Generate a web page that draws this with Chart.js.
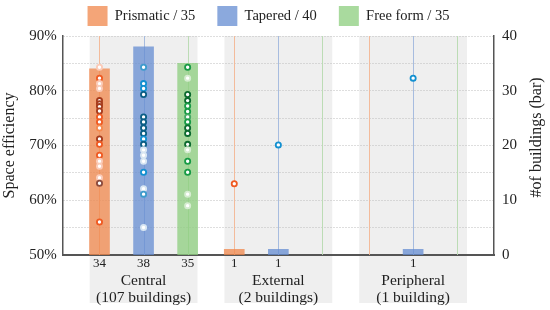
<!DOCTYPE html>
<html>
<head>
<meta charset="utf-8">
<script src="https://cdn.jsdelivr.net/npm/chart.js@4.4.1/dist/chart.umd.min.js"></script>
<style>
  html, body { margin: 0; padding: 0; background: #fff; }
  #wrap { width: 550px; height: 310px; }
</style>
</head>
<body>
<div id="wrap"><canvas id="chart"></canvas></div>
<script>
// categories
const groups = ['Central', 'External', 'Peripheral'];
const groupBuildings = ['(107 buildings)', '(2 buildings)', '(1 building)'];
const shapes = ['Prismatic', 'Tapered', 'Free form'];

// number of buildings per group (bars, right axis)
const prismaticCount = [34, 1, 0];
const taperedCount = [38, 1, 1];
const freeFormCount = [35, 0, 0];

// space efficiency of single buildings (%), per group
const prismaticCentral = [84.3, 82.3, 81.3, 80.4, 78.2, 77.6, 77.1, 76.3, 75.2, 74.3, 73.2, 71.2, 70.2, 68.2, 67.1, 66.2, 64.1, 63.1, 56.0];
const prismaticExternal = [63.0];
const prismaticPeripheral = [];
const taperedCentral = [84.3, 81.3, 80.4, 79.3, 75.2, 74.3, 73.2, 72.2, 71.2, 70.2, 69.2, 68.2, 67.1, 65.1, 62.1, 61.1, 55.0];
const taperedExternal = [70.1];
const taperedPeripheral = [82.3];
const freeFormCentral = [84.3, 82.3, 79.3, 78.2, 77.2, 76.2, 75.2, 74.3, 73.2, 72.2, 70.2, 69.2, 67.1, 65.1, 61.1, 59.0];
const freeFormExternal = [];
const freeFormPeripheral = [];

// shade class of each point (0 light .. 3 dark, 4 muted)
const prismaticCentralTone = [0, 2, 0, 0, 3, 3, 3, 3, 2, 2, 1, 3, 2, 2, 0, 0, 0, 4, 2];
const prismaticExternalTone = [2];
const taperedCentralTone = [1, 2, 2, 3, 3, 3, 3, 3, 2, 3, 0, 0, 0, 2, 0, 1, 0];
const taperedExternalTone = [2];
const taperedPeripheralTone = [2];
const freeFormCentralTone = [2, 0, 3, 3, 2, 2, 1, 2, 3, 3, 3, 0, 2, 2, 0, 0];

const subOffset = [-0.327, 0, 0.327];
const bandHalf = 0.4;

const barColors = ['rgba(240,135,75,0.75)', 'rgba(100,140,210,0.75)', 'rgba(140,205,125,0.75)'];
const guideColors = ['#f3bb9b', '#a7bcdf', '#bcdcb5'];
const toneColors = [
    ['#fbcbb8', '#f58a4f', '#ef5a22', '#a63b1c', '#8b4b3d'],
    ['#d8e6f2', '#3d9bcc', '#1390d0', '#0b5e85', '#0b5e85'],
    ['#d5ecd0', '#43a862', '#189a45', '#0c6a2f', '#0c6a2f']
];

const counts = [prismaticCount, taperedCount, freeFormCount];
const values = [
    [prismaticCentral, prismaticExternal, prismaticPeripheral],
    [taperedCentral, taperedExternal, taperedPeripheral],
    [freeFormCentral, freeFormExternal, freeFormPeripheral]
];
const tones = [
    [prismaticCentralTone, prismaticExternalTone, []],
    [taperedCentralTone, taperedExternalTone, taperedPeripheralTone],
    [freeFormCentralTone, [], []]
];

Chart.defaults.font.family = '"Liberation Serif", "Times New Roman", serif';
Chart.defaults.color = '#222';

const datasets = [];
shapes.forEach((name, s) => {
    const total = counts[s].reduce((a, b) => a + b, 0);
    const data = [];
    counts[s].forEach((c, g) => { if (c > 0) data.push({x: g + subOffset[s], y: c}); });
    datasets.push({
        type: 'bar',
        label: name + ' / ' + total,
        data: data,
        yAxisID: 'yc',
        backgroundColor: barColors[s],
        borderWidth: 0,
        barThickness: 20,
        grouped: false,
        order: 2
    });
});
shapes.forEach((name, s) => {
    const pts = [], cols = [];
    values[s].forEach((arr, g) => {
        arr.forEach((v, k) => {
            pts.push({x: g + subOffset[s], y: v});
            cols.push(toneColors[s][tones[s][g][k]]);
        });
    });
    datasets.push({
        type: 'scatter',
        label: name + ' buildings',
        data: pts,
        yAxisID: 'y',
        pointRadius: 2.6,
        pointBorderWidth: 1.8,
        pointBackgroundColor: '#fff',
        pointBorderColor: cols,
        order: 1
    });
});

// x tick positions (only where a bar exists)
const tickPos = [], tickText = [];
groups.forEach((g, gi) => {
    shapes.forEach((name, s) => {
        if (counts[s][gi] > 0) {
            tickPos.push(gi + subOffset[s]);
            tickText.push(String(counts[s][gi]));
        }
    });
});

const groupPlugin = {
    id: 'groupBands',
    afterLayout(chart) {
        // legend sits a bit left of the canvas centre in the original
        chart.legend.left += 6;
        chart.legend.right += 6;
    },
    beforeDraw(chart) {
        const {ctx, chartArea, scales} = chart;
        ctx.save();
        ctx.fillStyle = '#efefef';
        groups.forEach((g, i) => {
            const l = scales.x.getPixelForValue(i - bandHalf);
            const r = scales.x.getPixelForValue(i + bandHalf);
            ctx.fillRect(l, chartArea.top, r - l, scales.x2.bottom - 3 - chartArea.top);
        });
        ctx.restore();
    },
    beforeDatasetsDraw(chart) {
        const {ctx, chartArea, scales} = chart;
        ctx.save();
        ctx.lineWidth = 1;
        groups.forEach((g, i) => {
            shapes.forEach((name, s) => {
                const px = Math.round(scales.x.getPixelForValue(i + subOffset[s])) + 0.5;
                ctx.strokeStyle = guideColors[s];
                ctx.beginPath();
                ctx.moveTo(px, chartArea.top);
                ctx.lineTo(px, chartArea.bottom);
                ctx.stroke();
            });
        });
        ctx.restore();
    },
    afterDraw(chart) {
        const {ctx, chartArea} = chart;
        ctx.save();
        ctx.translate(chart.width - 13, (chartArea.top + chartArea.bottom) / 2 - 8);
        ctx.rotate(-Math.PI / 2);
        ctx.textAlign = 'center';
        ctx.textBaseline = 'middle';
        ctx.fillStyle = '#222';
        ctx.font = '16px "Liberation Serif", serif';
        ctx.fillText('#of buildings (bar)', 0, 0);
        ctx.restore();
    }
};

new Chart(document.getElementById('chart'), {
    type: 'bar',
    data: { datasets: datasets },
    options: {
        responsive: true,
        maintainAspectRatio: false,
        animation: false,
        layout: { padding: { top: -16, right: 25, bottom: 4, left: 0 } },
        plugins: {
            tooltip: { enabled: false },
            legend: {
                position: 'top',
                labels: {
                    boxWidth: 20,
                    boxHeight: 20,
                    padding: 22,
                    font: { size: 14.5 },
                    filter: item => item.datasetIndex < 3
                }
            }
        },
        scales: {
            x: {
                type: 'linear',
                min: -0.6,
                max: 2.6,
                offset: false,
                weight: 0,
                grid: { display: false, drawTicks: false },
                border: { display: true, color: '#555', width: 2 },
                afterBuildTicks: scale => { scale.ticks = tickPos.map(v => ({value: v})); },
                ticks: {
                    autoSkip: false,
                    maxRotation: 0,
                    padding: 2,
                    font: { size: 13, lineHeight: 1.0 },
                    callback: (v, i) => tickText[i]
                }
            },
            x2: {
                type: 'linear',
                position: 'bottom',
                min: -0.6,
                max: 2.6,
                offset: false,
                weight: 1,
                grid: { display: false, drawTicks: false },
                border: { display: false },
                afterBuildTicks: scale => { scale.ticks = groups.map((g, i) => ({value: i})); },
                ticks: {
                    autoSkip: false,
                    maxRotation: 0,
                    padding: 0,
                    font: { size: 15.5, lineHeight: 1.1 },
                    callback: (v, i) => [groups[i], groupBuildings[i]]
                }
            },
            y: {
                position: 'left',
                min: 50,
                max: 90,
                grid: { color: '#bdbdbd', drawTicks: false },
                border: { display: true, color: '#555', width: 1.5, dash: [1, 2] },
                ticks: {
                    stepSize: 5,
                    padding: 6,
                    font: { size: 15 },
                    callback: v => (v % 10 === 0 ? v + '%' : '')
                },
                title: { display: true, text: 'Space efficiency', font: { size: 16 }, padding: { top: 0, bottom: 4 } }
            },
            yc: {
                position: 'right',
                min: 0,
                max: 40,
                grid: { display: false, drawTicks: false },
                border: { display: true, color: '#555', width: 1.5 },
                ticks: { stepSize: 10, padding: 8, font: { size: 15 } }
            }
        }
    },
    plugins: [groupPlugin]
});
</script>
</body>
</html>
